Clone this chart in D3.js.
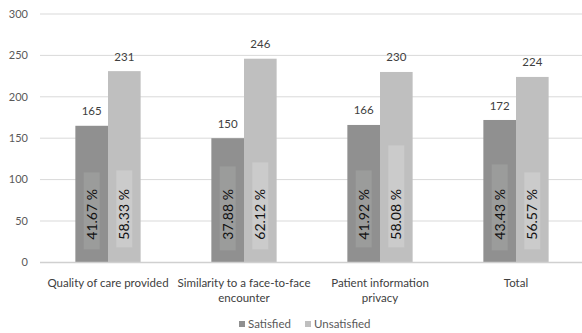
<!DOCTYPE html>
<html>
<head>
<meta charset="utf-8">
<script src="https://cdn.jsdelivr.net/npm/d3@7"></script>
<style>
  html, body { margin: 0; padding: 0; background: #fff; }
  svg { display: block; font-family: Lato, "Open Sans", sans-serif; }
</style>
</head>
<body>
<svg id="chart" width="582" height="333"></svg>
<script>
// Survey results: counts and shares per aspect
const categories = [
  ["Quality of care provided"],
  ["Similarity to a face-to-face", "encounter"],
  ["Patient information", "privacy"],
  ["Total"]
];
const seriesNames = ["Satisfied", "Unsatisfied"];
const satisfied = [165, 150, 166, 172];
const unsatisfied = [231, 246, 230, 224];
const satisfiedPct = ["41.67 %", "37.88 %", "41.92 %", "43.43 %"];
const unsatisfiedPct = ["58.33 %", "62.12 %", "58.08 %", "56.57 %"];
const yTicks = [0, 50, 100, 150, 200, 250, 300];

// Inner label box extents (px above the baseline: top, bottom) per bar
const labelBoxes = [
  [[90, 13], [92, 15]],
  [[96, 12], [100, 13]],
  [[92, 15], [117, 15]],
  [[98, 12], [90, 13]]
];

const colors = ["#909090", "#bfbfbf"];
const boxColors = ["#9b9c9b", "#cbcbcb"];

const svg = d3.select("#chart");
const plot = { left: 40, right: 584, top: 14, bottom: 262.4 };

const y = d3.scaleLinear().domain([0, 300]).range([plot.bottom, plot.top]);
const x0 = d3.scaleBand().domain(d3.range(categories.length))
  .range([plot.left, plot.right]).paddingInner(0.52).paddingOuter(0.26);
const x1 = d3.scaleBand().domain([0, 1]).range([0, x0.bandwidth()]);

// Gridlines
svg.append("g").selectAll("line").data(yTicks.slice(1)).join("line")
  .attr("x1", plot.left).attr("x2", 582)
  .attr("y1", d => y(d)).attr("y2", d => y(d))
  .attr("stroke", "#d9d9d9").attr("stroke-width", 1);

// Y-axis tick labels
svg.append("g").selectAll("text").data(yTicks).join("text")
  .attr("x", 28).attr("y", d => y(d)).attr("dy", "0.35em")
  .attr("text-anchor", "end").attr("font-size", 11).attr("fill", "#595959")
  .text(d => d);

const rows = categories.map((c, i) => ({
  i,
  vals: [satisfied[i], unsatisfied[i]],
  pcts: [satisfiedPct[i], unsatisfiedPct[i]]
}));

const groups = svg.append("g").selectAll("g").data(rows).join("g")
  .attr("transform", d => `translate(${x0(d.i)},0)`);

const bars = groups.selectAll("g.bar").data(d => d.vals.map((v, s) => ({
  v, s, pct: d.pcts[s], box: labelBoxes[d.i][s]
}))).join("g").attr("class", "bar");

bars.append("rect")
  .attr("x", d => x1(d.s)).attr("width", x1.bandwidth())
  .attr("y", d => y(d.v)).attr("height", d => y(0) - y(d.v))
  .attr("fill", d => colors[d.s]);

// Value labels above bars
bars.append("text")
  .attr("x", d => x1(d.s) + x1.bandwidth() / 2)
  .attr("y", d => y(d.v) - 14.5).attr("dy", "0.35em")
  .attr("text-anchor", "middle").attr("font-size", 11.5).attr("fill", "#404040")
  .text(d => d.v);

// Inner percentage labels with boxes
bars.append("rect")
  .attr("x", d => x1(d.s) + x1.bandwidth() / 2 - 8).attr("width", 16)
  .attr("y", d => y(0) - d.box[0]).attr("height", d => d.box[0] - d.box[1])
  .attr("fill", d => boxColors[d.s]);

bars.append("text")
  .attr("transform", d => `translate(${x1(d.s) + x1.bandwidth() / 2},${y(0) - 48}) rotate(-90)`)
  .attr("dy", "0.36em").attr("text-anchor", "middle")
  .attr("font-size", 14).attr("fill", "#111")
  .text(d => d.pct);

// Baseline
svg.append("line")
  .attr("x1", plot.left).attr("x2", 582).attr("y1", y(0)).attr("y2", y(0))
  .attr("stroke", "#d0d0d0").attr("stroke-width", 1.5);

// Category labels
const cat = svg.append("g").selectAll("text").data(categories).join("text")
  .attr("x", (d, i) => x0(i) + x0.bandwidth() / 2)
  .attr("y", 282.5).attr("text-anchor", "middle")
  .attr("font-size", 11.5).attr("fill", "#404040");
cat.selectAll("tspan").data(d => d).join("tspan")
  .attr("x", function() { return this.parentNode.getAttribute("x"); })
  .attr("dy", (d, j) => j === 0 ? "0.35em" : 15.5)
  .text(d => d);

// Legend
const legendX = [239, 305];
const legend = svg.append("g").selectAll("g").data(seriesNames).join("g")
  .attr("transform", (d, i) => `translate(${legendX[i]},324)`);
legend.append("rect").attr("x", 0).attr("y", -3).attr("width", 6).attr("height", 6)
  .attr("fill", (d, i) => colors[i]);
legend.append("text").attr("x", 9).attr("dy", "0.35em")
  .attr("font-size", 11.5).attr("fill", "#595959").text(d => d);
</script>
</body>
</html>
